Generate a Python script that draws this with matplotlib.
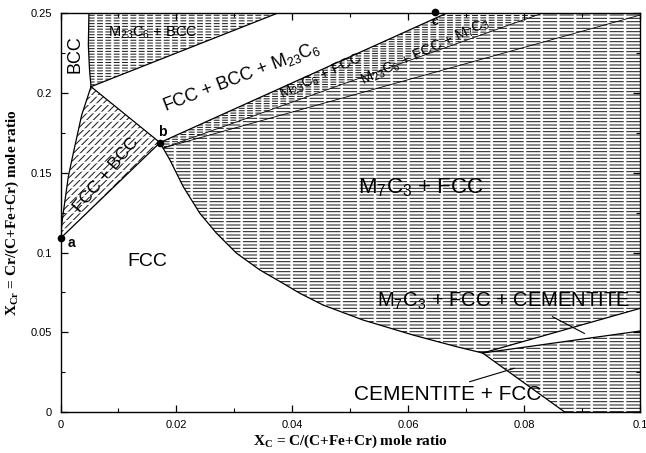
import numpy as np
import matplotlib
matplotlib.use("Agg")
import matplotlib.pyplot as plt

# -------------------------
# Phase boundaries (X_C, X_Cr)
# -------------------------
point_a = (0.0, 0.109)
point_b = (0.01716, 0.169)
point_c = (0.0646, 0.2512)
bcc_corner = (0.00526, 0.2041)

# BCC / (FCC + BCC) boundary, from a up to the BCC corner
fb_left_x = [0.0, 0.0003, 0.00078, 0.00134, 0.0022, 0.00365, 0.00526]
fb_left_y = [0.109, 0.1205, 0.133, 0.1476, 0.1623, 0.1863, 0.2041]

# BCC / (M23C6 + BCC) boundary, from the BCC corner up to the top
bcc_x = [0.00526, 0.0050, 0.0048, 0.0049]
bcc_y = [0.2041, 0.215, 0.230, 0.250]

# FCC boundary against the carbide regions, from b down to the cementite corner
fcc_x = [0.01716, 0.01888, 0.02117, 0.02405, 0.02693, 0.03038, 0.03440,
         0.03841, 0.04129, 0.04531, 0.05221, 0.06083, 0.06831, 0.07284]
fcc_y = [0.1690, 0.1581, 0.1414, 0.1246, 0.1121, 0.0996, 0.0891,
         0.0807, 0.0745, 0.0671, 0.0577, 0.0483, 0.0410, 0.0370]
fcc_cem_end = (0.0870, 0.0)

# tie-triangle edges
bcc_m23_end = (0.0373, 0.25)          # BCC - M23C6 edge
fcc_m23_end = (0.0665, 0.25)          # FCC - M23C6 edge (from b)
inner_start = (0.0177, 0.1656)
m23_m7_end = (0.0830, 0.25)
fcc_m7_end = (0.1, 0.249)
cem_upper = (0.1, 0.065)
cem_lower = (0.1, 0.0508)

# label pointers
ptr1_x, ptr1_y = [0.0849, 0.0904], [0.0598, 0.0493]
ptr2_x, ptr2_y = [0.0706, 0.0783], [0.0190, 0.0274]

x_ticks = [0, 0.02, 0.04, 0.06, 0.08, 0.1]
x_ticklabels = ["0", "0.02", "0.04", "0.06", "0.08", "0.1"]
y_ticks = [0, 0.05, 0.1, 0.15, 0.2, 0.25]
y_ticklabels = ["0", "0.05", "0.1", "0.15", "0.2", "0.25"]

# -------------------------
# Style
# -------------------------
plt.rcParams["font.family"] = "Liberation Sans"
plt.rcParams["mathtext.default"] = "regular"
plt.rcParams["hatch.linewidth"] = 0.75

fig = plt.figure(figsize=(6.46, 4.53), dpi=100)
ax = fig.add_axes([0.0937, 0.0905, 0.897, 0.8797])
ax.set_xlim(0, 0.1)
ax.set_ylim(0, 0.25)


def tie_fill(xs, ys, hatch, breaks=None, gap=1.8):
    # hatched region; a white hatch on top cuts the tie lines into dashes
    ax.fill(xs, ys, facecolor="white", edgecolor="#222222", lw=0, hatch=hatch, zorder=1)
    if breaks:
        p = ax.fill(xs, ys, facecolor="none", edgecolor="white", lw=0, hatch=breaks, zorder=1.2)[0]
        if hasattr(p, "set_hatch_linewidth"):
            p.set_hatch_linewidth(gap)


# FCC + BCC
tie_fill(fb_left_x + [point_b[0]], fb_left_y + [point_b[1]], "/////", "--", 1.2)

# M23C6 + BCC
tie_fill(bcc_x + [bcc_m23_end[0]], bcc_y + [bcc_m23_end[1]], "------", "||")

# M23C6 + FCC band next to b
tie_fill([point_b[0], fcc_m23_end[0], m23_m7_end[0], inner_start[0]],
         [point_b[1], fcc_m23_end[1], m23_m7_end[1], inner_start[1]], "-------", "||")

# M7C3 + FCC
reg_x = [inner_start[0], m23_m7_end[0], 0.1, cem_upper[0]] + fcc_x[::-1][:-1]
reg_y = [inner_start[1], m23_m7_end[1], 0.25, cem_upper[1]] + fcc_y[::-1][:-1]
tie_fill(reg_x, reg_y, "-----", "|")

# CEMENTITE + FCC
tie_fill([fcc_x[-1], cem_lower[0], 0.1, fcc_cem_end[0]],
         [fcc_y[-1], cem_lower[1], 0.0, fcc_cem_end[1]], "-----", "|")

# -------------------------
# Boundary lines
# -------------------------
lk = dict(color="black", lw=0.9)
ax.plot(fb_left_x, fb_left_y, **lk)
ax.plot(bcc_x, bcc_y, **lk)
ax.plot(fcc_x, fcc_y, **lk)
ax.plot([point_a[0], point_b[0]], [point_a[1], point_b[1]], **lk)
ax.plot([bcc_corner[0], point_b[0]], [bcc_corner[1], point_b[1]], **lk)
ax.plot([bcc_corner[0], bcc_m23_end[0]], [bcc_corner[1], bcc_m23_end[1]], **lk)
ax.plot([point_b[0], fcc_m23_end[0]], [point_b[1], fcc_m23_end[1]], **lk)
ax.plot([inner_start[0], m23_m7_end[0]], [inner_start[1], m23_m7_end[1]], color="black", lw=0.6)
ax.plot([inner_start[0], fcc_m7_end[0]], [inner_start[1], fcc_m7_end[1]], color="black", lw=0.6)
ax.plot([fcc_x[-1], cem_upper[0]], [fcc_y[-1], cem_upper[1]], **lk)
ax.plot([fcc_x[-1], cem_lower[0]], [fcc_y[-1], cem_lower[1]], **lk)
ax.plot([fcc_x[-1], fcc_cem_end[0]], [fcc_y[-1], fcc_cem_end[1]], **lk)
ax.plot(ptr1_x, ptr1_y, color="black", lw=0.8)
ax.plot(ptr2_x, ptr2_y, color="black", lw=0.8)

# points a, b, c
for p in (point_a, point_b, point_c):
    ax.plot(p[0], p[1], "o", color="black", ms=4.5, clip_on=False, zorder=5)
ax.text(0.0018, 0.1063, "a", fontsize=10, fontweight="bold", ha="center", va="center")
ax.text(0.0175, 0.1757, "b", fontsize=10, fontweight="bold", ha="center", va="center")
ax.text(0.0646, 0.2445, "c", fontsize=9, fontweight="bold", ha="center", va="center")

# -------------------------
# Region labels
# -------------------------
ax.text(0.0025, 0.2245, "BCC", fontsize=13, rotation=90, ha="center", va="center")
ax.text(0.0150, 0.0944, "FCC", fontsize=14, ha="center", va="center")
ax.text(0.0160, 0.2380, "M$_{23}$C$_6$ + BCC", fontsize=10.5, ha="center", va="center")
ax.text(0.0312, 0.2102, "FCC + BCC + M$_{23}$C$_6$", fontsize=13, rotation=21,
        ha="center", va="center", rotation_mode="anchor")
ax.text(0.0078, 0.1487, "FCC + BCC", fontsize=12.5, rotation=50,
        ha="center", va="center", rotation_mode="anchor")
ax.text(0.0449, 0.2102, "M$_{23}$C$_6$ + FCC", fontsize=10.5, rotation=25,
        ha="center", va="center", rotation_mode="anchor")
ax.text(0.0630, 0.2258, "M$_{23}$C$_6$ + FCC + M$_7$C$_3$", fontsize=10.5, rotation=25,
        ha="center", va="center", rotation_mode="anchor")
ax.text(0.0622, 0.1405, "M$_7$C$_3$ + FCC", fontsize=16, ha="center", va="center")
ax.text(0.0765, 0.0696, "M$_7$C$_3$ + FCC + CEMENTITE", fontsize=14.5, ha="center", va="center")
ax.text(0.0668, 0.0107, "CEMENTITE + FCC", fontsize=15, ha="center", va="center")

# -------------------------
# Axes, ticks, labels
# -------------------------
ax.set_xticks(x_ticks)
ax.set_xticklabels(x_ticklabels)
ax.set_yticks(y_ticks)
ax.set_yticklabels(y_ticklabels)
ax.set_xticks(np.arange(0.01, 0.1, 0.02), minor=True)
ax.set_yticks(np.arange(0.025, 0.25, 0.05), minor=True)
ax.tick_params(which="both", direction="in", top=True, right=True, labelsize=8, colors="black")
ax.tick_params(which="major", length=5, width=0.9, pad=6)
ax.tick_params(which="minor", length=3, width=0.8)
for s in ax.spines.values():
    s.set_linewidth(1.0)

ax.set_xlabel("X$_C$ = C/(C+Fe+Cr) mole ratio", family="Liberation Serif",
              fontweight="bold", fontsize=11, labelpad=2)
ax.set_ylabel("X$_{Cr}$ = Cr/(C+Fe+Cr) mole ratio", family="Liberation Serif",
              fontweight="bold", fontsize=11, labelpad=7)

plt.savefig("out.png", dpi=100)
